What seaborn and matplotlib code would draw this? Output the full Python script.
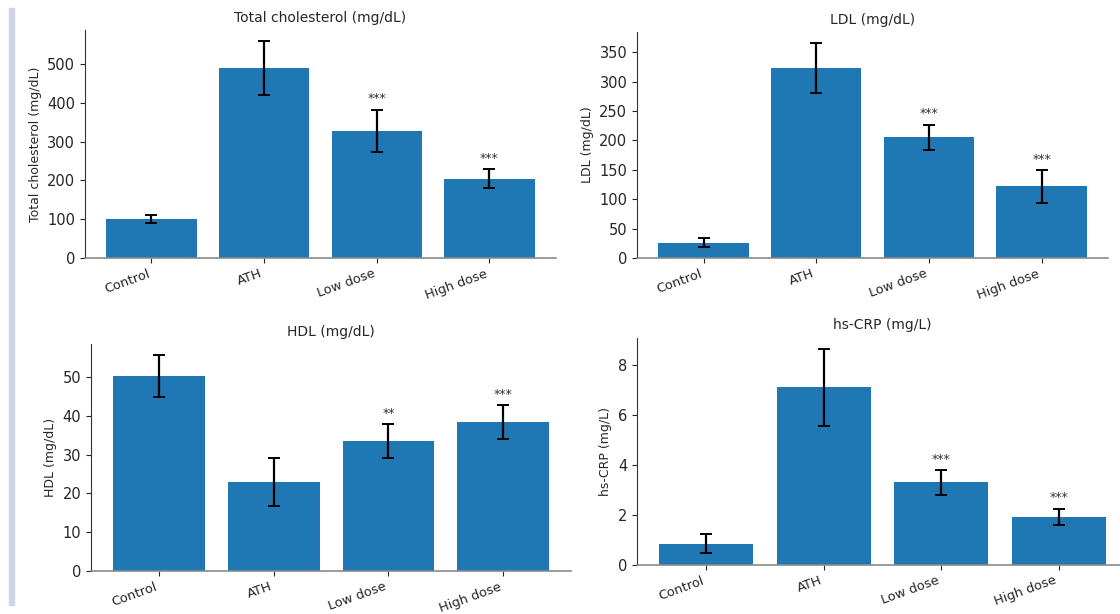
import numpy as np
import pandas as pd
import seaborn as sns
import matplotlib.pyplot as plt
from matplotlib.patches import Rectangle
from matplotlib.ticker import MultipleLocator

# Data
groups = ["Control", "ATH", "Low dose", "High dose"]

tc_mean = [100, 490, 328, 205]
tc_err = [10, 70, 55, 25]
tc_stars = ["", "", "***", "***"]

ldl_mean = [26, 323, 205, 122]
ldl_err = [8, 43, 22, 28]
ldl_stars = ["", "", "***", "***"]

hdl_mean = [50.2, 23.0, 33.5, 38.4]
hdl_err = [5.4, 6.2, 4.3, 4.4]
hdl_stars = ["", "", "**", "***"]

crp_mean = [0.85, 7.1, 3.3, 1.92]
crp_err = [0.37, 1.55, 0.5, 0.33]
crp_stars = ["", "", "***", "***"]

# title, means, errors, stars, y tick step, axes position
panels = [
    ("Total cholesterol (mg/dL)", tc_mean, tc_err, tc_stars, 100, [0.0759, 0.5798, 0.4205, 0.3713]),
    ("LDL (mg/dL)", ldl_mean, ldl_err, ldl_stars, 50, [0.5688, 0.5798, 0.4205, 0.3680]),
    ("HDL (mg/dL)", hdl_mean, hdl_err, hdl_stars, 10, [0.0813, 0.0700, 0.4286, 0.3690]),
    ("hs-CRP (mg/L)", crp_mean, crp_err, crp_stars, 2, [0.5688, 0.0800, 0.4384, 0.3700]),
]

sns.set_style("ticks")
plt.rcParams['font.family'] = ['DejaVu Sans']

fig = plt.figure(figsize=(11.2, 6.14), dpi=100)

# pale strip along the left edge of the screenshot
fig.patches.append(Rectangle((9 / 1120, 0.015), 5 / 1120, 0.972,
                             transform=fig.transFigure, color='#cdd6e6', zorder=0))

for title, mean, err, stars, step, pos in panels:
    ax = fig.add_axes(pos)
    df = pd.DataFrame({"group": groups, "value": mean})
    sns.barplot(data=df, x="group", y="value", color="#1f77b4", saturation=1,
                width=0.8, errorbar=None, linewidth=0, ax=ax)
    ax.errorbar(np.arange(len(groups)), mean, yerr=err, fmt='none',
                ecolor='black', elinewidth=1.6, capsize=4.5, capthick=1.4)
    for i, s in enumerate(stars):
        if s:
            ax.annotate(s, (i, mean[i] + err[i]), xytext=(0, 3),
                        textcoords='offset points', ha='center', va='bottom',
                        fontsize=9, color='#333333')
    ax.set_xlim(-0.59, len(groups) - 1 + 0.59)
    ax.set_ylim(0, max(np.array(mean) + np.array(err)) * 1.05)
    ax.yaxis.set_major_locator(MultipleLocator(step))
    ax.set_title(title, fontsize=10)
    ax.set_xlabel("")
    ax.set_ylabel(title, fontsize=9)
    ax.tick_params(axis='y', labelsize=10.5)
    ax.tick_params(axis='x', labelsize=9.4, pad=3)
    plt.setp(ax.get_xticklabels(), rotation=20, ha='right')
    sns.despine(ax=ax)
    ax.spines['bottom'].set_color('#8a8a8a')
    ax.spines['bottom'].set_linewidth(1.2)
    ax.spines['left'].set_color('#333333')

fig.savefig("out.png", dpi=100)
